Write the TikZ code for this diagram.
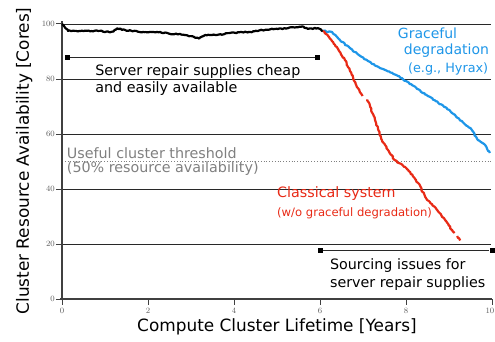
\documentclass[tikz,border=0pt]{standalone}
\usepackage{fontspec}
\newfontfamily\dv{DejaVu Sans}
\usetikzlibrary{decorations.pathmorphing}

\definecolor{gblue}{RGB}{30,150,232}
\definecolor{cred}{RGB}{232,42,22}
\definecolor{axisgray}{RGB}{64,64,64}
\definecolor{gridgray}{RGB}{40,40,40}
\definecolor{notegray}{RGB}{128,128,128}

\tikzset{
  gridline/.style={gridgray, line width=0.9pt},
  axisline/.style={axisgray, line width=2.6pt},
  ticklabel/.style={font=\fontsize{8.2}{9}\selectfont, text=axisgray!85, inner sep=0.5pt},
  series/.style={line width=2.2pt, line join=round,
    decorate, decoration={random steps, segment length=1.6pt, amplitude=0.55pt}},
  bracket/.style={gridgray, line width=1pt},
  endmark/.style={fill=black, minimum size=5pt, inner sep=0pt, draw=none},
  note/.style={font=\dv\fontsize{14.3}{17.5}\selectfont, align=left, inner sep=0pt},
  axistitle/.style={font=\dv\fontsize{16.9}{18}\selectfont, inner sep=0pt},
}

\begin{document}
\begin{tikzpicture}
\useasboundingbox (0,0) rectangle (495pt,341pt);
\pgfmathsetseed{7}
\begin{scope}[shift={(62pt,42pt)}, x=43pt, y=2.75pt]

  % horizontal grid lines
  \foreach \v in {20,40,60,80,100}
    \draw[gridline] (0,\v) -- (9.98,\v);
  % useful cluster threshold
  \draw[notegray, line width=0.8pt, dotted] (0,50) -- (9.98,50);

  % axes and ticks
  \draw[axisline] (0,-0.5) -- (0,101);
  \draw[axisline] (-0.05,0) -- (9.99,0);
  \foreach \v in {0,20,40,60,80,100} {
    \draw[axisgray, line width=1pt] (-0.14,\v) -- (0,\v);
    \node[ticklabel, anchor=east] (yt\v) at (-0.15,\v) {\v};
  }
  \foreach \t in {0,2,4,6,8} {
    \draw[axisgray, line width=1pt] (\t,0) -- (\t,-2.2);
    \node[ticklabel, anchor=north] (xt\t) at (\t,-3.1) {\t};
  }
  \draw[axisgray, line width=1pt] (10,0) -- (10,-2.2);
  \node[ticklabel, anchor=north east] (xt10) at (10.07,-3.1) {10};

  % axis titles
  \node[axistitle, rotate=90] (ylab) at (-0.88,50.2)
    {Cluster Resource Availability [Cores]};
  \node[axistitle] (xlab) at (5.0,-10.3)
    {Compute Cluster Lifetime [Years]};

  % shared history of both systems
  \draw[series, black] plot coordinates {
    (0,100) (0.05,99.2) (0.14,97.5) (0.5,97.4) (0.88,97.5) (1.12,97.0)
    (1.2,97.3) (1.28,98.4) (1.47,97.8) (1.81,97.1) (2.28,97.1) (2.51,96.4)
    (2.74,96.4) (2.98,95.6) (3.19,94.7) (3.33,96.0) (3.6,96.0) (3.9,96.7)
    (4.37,97.1) (4.65,97.8) (5.26,98.5) (5.58,99.1) (5.72,98.2) (5.95,98.5)
    (6.07,97.5)};

  % graceful degradation
  \draw[series, gblue] plot coordinates {
    (6.07,97.5) (6.28,97.1) (6.51,93.5) (6.81,89.8) (7.21,85.5) (7.51,83.3)
    (7.81,81.1) (8.14,77.8) (8.51,73.8) (8.91,69.8) (9.21,65.8) (9.53,61.5)
    (9.67,57.8) (9.84,56.0) (9.95,53.1)};

  % classical system
  \draw[series, cred] plot coordinates {
    (6.07,97.5) (6.19,95.6) (6.35,92.4) (6.58,86.9) (6.74,81.5) (6.88,76.7)
    (6.99,73.8)};
  \draw[series, cred] plot coordinates {
    (7.10,72.6) (7.28,65.1) (7.44,57.8) (7.58,54.2) (7.74,50.5) (7.98,48.0)
    (8.05,46.9) (8.28,42.2) (8.49,36.0) (8.67,33.5) (8.91,28.7) (9.07,25.1)
    (9.13,24.0)};
  \draw[series, cred] plot coordinates {(9.19,22.9) (9.26,21.3)};

  % period with easily available repair supplies
  \node[endmark] (ea) at (0.12,88) {};
  \node[endmark] (eb) at (5.95,88) {};
  \draw[bracket] (ea) -- (eb);
  \node[note, anchor=west] (easy) at (0.77,79.6)
    {Server repair supplies cheap\\and easily available};

  % period with sourcing issues
  \node[endmark] (sa) at (6.0,17.8) {};
  \node[endmark] (sb) at (10.0,17.8) {};
  \draw[bracket] (sa) -- (sb);
  \node[note, anchor=west] (sourcing) at (6.23,8.8)
    {Sourcing issues for\\server repair supplies};

  % series labels
  \node[note, font=\dv\fontsize{14}{17}\selectfont, text=gblue, anchor=center] (gr1) at (8.50,96.7) {Graceful};
  \node[note, font=\dv\fontsize{14}{17}\selectfont, text=gblue, anchor=center] (gr2) at (8.94,90.2) {degradation};
  \node[note, font=\dv\fontsize{12.8}{15}\selectfont, text=gblue, anchor=center] (gr3) at (8.98,83.6) {(e.g., Hyrax)};

  \node[note, text=cred, anchor=west] (cl1) at (5.0,38.2) {Classical system};
  \node[note, font=\dv\fontsize{11.6}{14}\selectfont, text=cred, anchor=west] (cl2) at (5.0,31.3) {(w/o graceful degradation)};

  \node[note, text=notegray, anchor=west] (th1) at (0.11,53.1) {Useful cluster threshold};
  \node[note, text=notegray, anchor=west] (th2) at (0.11,47.6) {(50\% resource availability)};
\end{scope}
\end{tikzpicture}
\end{document}
